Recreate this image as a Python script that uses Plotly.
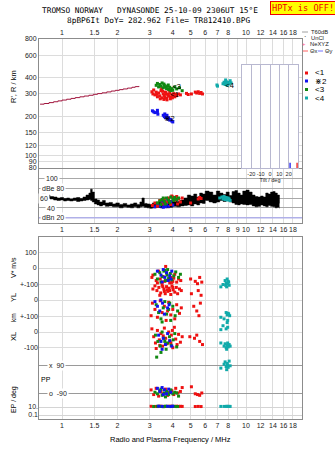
import math
import plotly.graph_objects as go

# ---------------- data ----------------
freq_ticks = [1, 1.5, 2, 3, 4, 5, 6, 7, 8, 9, 10, 12, 14, 16, 18]
freq_labels_outer = ["1", "1.5", "2", "3", "4", "5", "6", "7", "8", "", "10", "12", "14", "16", "18"]
freq_labels_mid = ["1", "1.5", "2", "3", "4", "5", "6", "7", "8", "9", "10", "12", "14", "16", "18"]
range_ticks = [80, 90, 100, 120, 150, 200, 300, 400, 600, 800]
db_ticks = [100, 80, 60, 40, 20]

# model/trace line in range panel (MHz, km)
trace_f = [0.76, 0.8, 0.85, 0.9, 0.95, 1.0, 1.06, 1.12, 1.18, 1.25, 1.32, 1.4, 1.48, 1.56,
           1.65, 1.75, 1.85, 1.95, 2.05, 2.15, 2.27, 2.4, 2.5, 2.62]
trace_r = [250, 253, 257, 261, 265, 269, 273, 277, 281, 285, 289, 293, 298, 302,
           306, 311, 316, 320, 324, 328, 333, 338, 342, 346]

# echo clusters, range panel
red_f = [3.08, 3.12, 3.15, 3.2, 3.25, 3.3, 3.35, 3.4, 3.45, 3.5, 3.55, 3.6, 3.65, 3.7, 3.75, 3.8,
         3.85, 3.9, 3.95, 4.0, 4.05, 4.1, 4.15, 4.2, 4.3, 4.4, 3.42, 3.58, 3.72, 3.88, 3.52, 3.62,
         3.78, 3.98, 3.28, 3.68, 4.75, 4.85, 5.3, 5.4, 5.5, 5.6, 5.7, 5.8, 5.05, 3.48, 3.82]
red_r = [312, 300, 322, 295, 310, 285, 305, 290, 318, 280, 300, 292, 310, 278, 298, 288,
         305, 282, 296, 290, 302, 285, 297, 291, 300, 295, 275, 272, 270, 275, 315, 283,
         293, 280, 298, 302, 303, 297, 310, 305, 312, 303, 308, 300, 300, 330, 320]
green_f = [3.25, 3.3, 3.35, 3.4, 3.45, 3.5, 3.55, 3.6, 3.65, 3.7, 3.75, 3.8, 3.85, 3.9, 3.95,
           4.0, 4.1, 4.2, 4.35, 4.5, 3.58, 3.78]
green_r = [350, 362, 340, 355, 345, 365, 335, 350, 340, 330, 345, 325, 338, 318, 330,
           320, 340, 328, 335, 318, 358, 352]
blue_f = [3.1, 3.15, 3.2, 3.3, 3.3, 3.32, 3.55, 3.6, 3.65, 3.7, 3.75, 3.8, 3.85, 3.9, 3.95, 4.0,
          3.62, 3.72]
blue_r = [222, 218, 215, 224, 216, 209, 205, 200, 196, 200, 192, 196, 188, 190, 185, 182,
          210, 205]
cyan_f = [6.95, 7.0, 7.5, 7.6, 7.7, 7.8, 7.85, 7.9, 8.0, 8.1, 8.2, 8.3, 7.75]
cyan_r = [352, 345, 360, 370, 355, 375, 362, 350, 368, 358, 380, 365, 385]
mode_labels = ["<1", "\u22c72", "<3", "<4"]
mode_label_f = [4.1, 3.82, 4.2, 8.15]
mode_label_r = [296, 190, 338, 348]

# amplitude panel: noise/echo band (MHz, dB)
band_f = [0.78, 0.82, 0.86, 0.9, 0.94, 0.98, 1.02, 1.06, 1.1, 1.15, 1.2, 1.25, 1.3, 1.35, 1.4, 1.43,
          1.46, 1.5, 1.55, 1.6, 1.66, 1.72, 1.8, 1.88, 1.96, 2.05, 2.15, 2.25, 2.35, 2.45, 2.55,
          2.65, 2.72, 2.8, 2.9, 3.0, 3.1, 3.25, 3.4, 3.55, 3.7, 3.85, 4.0, 4.2, 4.4, 4.6, 4.8,
          5.0, 5.2, 5.4, 5.6, 5.8, 6.0, 6.3, 6.6, 6.9, 7.2, 7.5, 7.8, 8.1, 8.4, 8.7, 9.0, 9.3,
          9.6, 10.0, 10.4, 10.8, 11.2, 11.6, 12.0, 12.4, 12.8, 13.2, 13.6, 14.0, 14.4, 14.8, 15.2]
band_top = [68, 66, 63, 62, 60, 61, 59, 60, 58, 60, 61, 59, 62, 66, 70, 78, 72, 58, 56, 52, 55,
            50, 51, 48, 50, 47, 49, 46, 48, 50, 47, 52, 60, 49, 48, 47, 50, 52, 53, 54, 52, 55,
            54, 53, 56, 60, 66, 64, 68, 62, 70, 68, 74, 72, 66, 74, 70, 67, 72, 65, 73, 75, 70,
            66, 74, 76, 72, 66, 63, 62, 64, 62, 70, 68, 72, 73, 70, 66, 49]
band_bot = [62, 60, 58, 56, 55, 56, 54, 55, 54, 55, 53, 54, 55, 56, 57, 55, 52, 48, 46, 44, 46,
            43, 44, 42, 42, 40, 42, 41, 40, 42, 40, 42, 43, 41, 40, 39, 40, 41, 40, 42, 40, 41,
            43, 42, 44, 45, 46, 44, 48, 46, 50, 49, 55, 52, 50, 52, 55, 53, 55, 52, 50, 47, 46,
            48, 47, 46, 47, 44, 42, 43, 46, 44, 42, 45, 43, 42, 40, 41, 39]
db_red_f = [3.1, 3.2, 3.3, 3.4, 3.5, 3.6, 3.7, 3.8, 3.9, 4.0, 4.1, 4.2, 4.3, 4.4, 4.5, 3.95, 4.25,
            5.5, 5.6, 5.7, 5.0]
db_red_v = [45, 50, 43, 55, 48, 58, 52, 60, 47, 62, 55, 63, 58, 52, 60, 64, 48, 58, 61, 59, 50]
db_green_f = [3.3, 3.4, 3.5, 3.6, 3.7, 3.8, 3.9, 4.0, 4.1, 4.2, 4.3, 3.45, 3.65, 3.85, 4.05, 3.55]
db_green_v = [50, 54, 57, 53, 60, 56, 62, 58, 61, 57, 60, 47, 48, 51, 55, 60]
db_blue_f = [3.2, 3.3, 3.4, 3.5, 3.6, 3.7, 3.8, 3.9, 4.0, 3.55, 3.75, 3.65]
db_blue_v = [42, 46, 44, 50, 45, 48, 43, 52, 46, 41, 55, 42]
db_cyan_f = [7.2, 7.4, 7.5, 7.6, 7.7, 7.8, 7.9, 8.0, 8.1, 8.2]
db_cyan_v = [60, 62, 58, 63, 57, 61, 56, 60, 58, 55]

# tilt inset (deg, count)
tilt_deg = [21.5, 29.0]
tilt_count = [1, 1]
tilt_colors = ["#0000ee", "#ee0000"]

# lower panel: V* (m/s), YL (km), XL (km), PP (deg), EP (deg)
vs_red_f = [3.08, 3.12, 3.25, 3.35, 3.42, 3.5, 3.55, 3.62, 3.7, 3.78, 3.85, 3.92, 4.0, 4.1, 4.2,
            4.3, 4.42, 3.66, 3.3, 3.95, 4.05, 5.0, 5.3, 5.6, 5.75, 5.45]
vs_red_v = [-60, -45, -80, -20, -70, -90, -55, -85, -30, -75, -95, -60, -85, -40, -90,
            -70, -80, 10, -95, -92, -65, -70, -85, -60, -90, -100]
yl_red_f = [3.2, 3.28, 3.36, 3.44, 3.5, 3.58, 3.64, 3.7, 3.76, 3.82, 3.9, 3.96, 4.02, 4.1, 4.18,
            4.25, 4.35, 4.45, 3.4, 3.6, 3.85, 4.0, 3.12, 3.53, 3.73, 3.1, 3.2, 3.3, 3.42, 3.5,
            3.6, 3.68, 3.8, 3.9, 4.0, 4.1, 4.2, 4.35, 3.05, 3.75, 4.45, 5.05, 5.5, 5.7, 5.2,
            5.4, 5.65, 5.55]
yl_red_v = [90, 60, 80, 45, 95, 70, 40, 85, 55, 75, 35, 90, 65, 50, 80,
            40, 70, 60, 30, 55, 60, 80, 70, 85, 65, -20, -60, -110, -5, -80,
            -40, -130, -15, -95, -60, -120, -30, -85, -100, -70, -50, 40, 60, 30, -40,
            -70, -20, -100]
xl_red_f = [3.08, 3.15, 3.22, 3.3, 3.38, 3.45, 3.52, 3.6, 3.66, 3.72, 3.8, 3.86, 3.93, 4.0, 4.08,
            4.15, 4.22, 4.3, 4.4, 4.5, 3.4, 3.55, 3.9, 3.98, 3.25, 4.95, 5.25, 5.6, 5.8, 5.4]
xl_red_v = [20, -30, -70, 10, -50, -10, -90, 25, -40, -75, 0, -60, -20, -100, 30,
            -45, -80, -15, -65, -30, -85, -25, -70, 10, -105, -30, -40, -60, -80, -20]
vs_green_f = [3.2, 3.3, 3.4, 3.5, 3.58, 3.65, 3.72, 3.8, 3.88, 3.95, 4.05, 4.15, 4.3, 3.45, 3.75,
              4.4, 3.62]
vs_green_v = [-40, -70, -30, -55, -20, -80, -45, -65, -35, -75, -50, -25, -60, -90, -10, -40, -15]
yl_green_f = [3.25, 3.35, 3.45, 3.55, 3.62, 3.7, 3.8, 3.9, 4.0, 4.12, 3.5, 3.85, 4.25]
yl_green_v = [-30, -80, -120, -50, -10, -90, -60, -130, -40, -100, -140, -20, -70]
xl_green_f = [3.22, 3.32, 3.42, 3.5, 3.58, 3.68, 3.75, 3.84, 3.92, 4.02, 4.1, 4.2, 3.62, 3.45, 3.27]
xl_green_v = [-20, -60, -90, 0, -40, -110, -70, -30, -85, -50, -10, -95, -60, -130, -160]
vs_blue_f = [3.3, 3.45, 3.55, 3.62, 3.7, 3.78, 3.85, 3.95, 3.5, 3.9]
vs_blue_v = [-20, -45, -10, -60, -30, -80, -50, -20, -90, -70]
yl_blue_f = [3.2, 3.3, 3.4, 3.52, 3.6, 3.75, 3.45, 3.82]
yl_blue_v = [-10, -40, -70, -20, -90, -50, 0, -30]
xl_blue_f = [3.35, 3.45, 3.55, 3.65, 3.75, 3.85, 3.95, 3.5]
xl_blue_v = [-20, -60, -40, -80, -10, -55, -90, -110]
vs_cyan_f = [7.7, 7.8, 7.9, 7.95, 8.0, 8.1, 7.85, 7.3, 7.5, 8.05, 7.75]
vs_cyan_v = [-80, -95, -70, -100, -85, -110, -120, -120, -105, -90, -110]
yl_cyan_f = [7.8, 7.9, 8.0, 8.15, 7.3, 7.6, 7.95, 8.05]
yl_cyan_v = [-80, -95, -85, -100, -110, -120, -130, -90]
xl_cyan_f = [7.5, 7.8, 7.9, 7.3, 7.95, 7.6, 7.7, 7.8, 7.9, 8.0, 8.1, 7.85, 7.3, 8.2, 7.95]
xl_cyan_v = [40, 20, 60, 15, 30, -90, -75, -100, -85, -95, -80, -110, -70, -90, -70]
pp_red_f = [3.05, 3.15, 3.25, 3.35, 3.45, 3.55, 3.65, 3.75, 3.85, 3.95, 4.05, 4.15, 4.25, 4.4,
            4.5, 5.3, 5.45, 5.6, 5.75, 5.05]
pp_red_v = [-70, -100, -60, -110, -80, -95, -65, -105, -85, -75, -100, -60, -90, -80,
            -55, -95, -100, -105, -90, -50]
pp_green_f = [3.2, 3.3, 3.4, 3.5, 3.6, 3.7, 3.8, 3.9, 4.0, 4.1, 4.2, 4.3, 3.45, 3.65, 3.85]
pp_green_v = [-85, -95, -75, -105, -90, -80, -100, -70, -95, -85, -90, -110, -65, -115, -88]
pp_blue_f = [3.3, 3.4, 3.5, 3.6, 3.7, 3.8, 3.9, 3.55]
pp_blue_v = [-60, -80, -55, -70, -95, -65, -85, -100]
pp_cyan_f = [7.3, 7.6, 7.7, 7.8, 7.9, 8.0, 8.1, 7.85, 7.95, 8.2]
pp_cyan_v = [70, 95, 110, 80, 100, 75, 115, 60, 90, 85]
ep_red_f = [3.05, 3.2, 3.4, 3.6, 3.8, 4.0, 4.2, 4.4, 4.5, 5.3, 5.5, 5.7, 3.3, 3.5, 3.9, 4.3]
ep_red_v = [15, 14, 16, 13, 15, 14, 16, 15, 14, 13, 14, 13, 13, 15, 16, 14]
ep_green_f = [3.15, 3.3, 3.45, 3.55, 3.7, 3.85, 4.05, 4.15, 3.65, 3.95, 4.25]
ep_green_v = [13, 15, 14, 12, 14, 13, 15, 13, 16, 14, 13]
ep_blue_f = [3.35, 3.5, 3.75, 3.9, 4.0]
ep_blue_v = [16, 14, 15, 13, 16]
ep_cyan_f = [7.3, 7.6, 7.8, 7.9, 8.0, 8.1, 8.2]
ep_cyan_v = [14, 14, 14, 15, 14, 14, 14]

RED, BLUE, GREEN, CYAN = "#ee1111", "#1111ee", "#118811", "#11aaaa"

# ---------------- layout geometry (pixels) ----------------
W, H = 335, 451
L, R, T, B = 39, 302, 39, 419
F1_PX, PX_PER_DEC = 62, 184.0


def px(x):
    return (x - L) / (R - L)


def py(y):
    return (B - y) / (B - T)


XR = [(L - F1_PX) / PX_PER_DEC, (R - F1_PX) / PX_PER_DEC]
FONT = "Liberation Sans"
MONO = "DejaVu Sans Mono"
GRID = "#dcdcdc"
FRAME = "#8c8c8c"
TXT = "#222222"

TOP_BOT_PX = 168
DB_TOP_PX, DB_BOT_PX = 168.5, 222.5
DB100_PX, DB_PX_PER = 178.3, 0.4925
db_range = [100 - (DB_BOT_PX - DB100_PX) / DB_PX_PER, 100 + (DB100_PX - DB_TOP_PX) / DB_PX_PER]
LOW_TOP_PX = 237
PX100 = 15.7


def lin_range(zero_px):
    return [-(B - zero_px) / PX100 * 100, (zero_px - LOW_TOP_PX) / PX100 * 100]


PP_P90, PP_M90 = 365, 393
pp_per = 180.0 / (PP_M90 - PP_P90)
pp_range = [90 - (B - PP_P90) * pp_per, 90 + (PP_P90 - LOW_TOP_PX) * pp_per]
EP10_PX, EP_PX_DEC = 407, 4.0
ep_range = [1 - (B - EP10_PX) / EP_PX_DEC, 1 + (EP10_PX - LOW_TOP_PX) / EP_PX_DEC]

fig = go.Figure()


def pts(x, y, color, xa, ya, size=3):
    fig.add_trace(go.Scatter(x=x, y=y, mode="markers", xaxis=xa, yaxis=ya, hoverinfo="skip",
                             marker=dict(symbol="square", size=size, color=color, line=dict(width=0))))


# range panel
fig.add_trace(go.Scatter(x=trace_f, y=trace_r, mode="lines", xaxis="x", yaxis="y",
                         line=dict(color="#a0143c", width=1, shape="hv")))
pts(red_f, red_r, RED, "x", "y")
pts(green_f, green_r, GREEN, "x", "y")
pts(blue_f, blue_r, BLUE, "x", "y")
pts(cyan_f, cyan_r, CYAN, "x", "y")
fig.add_trace(go.Scatter(x=mode_label_f, y=mode_label_r, mode="text", text=mode_labels,
                         xaxis="x", yaxis="y", textfont=dict(family=FONT, size=7.5, color="black")))

# dB panel
fig.add_trace(go.Scatter(x=band_f, y=band_bot, mode="lines", xaxis="x2", yaxis="y2",
                         line=dict(color="black", width=0.5, shape="hv")))
fig.add_trace(go.Scatter(x=band_f, y=band_top, mode="lines", xaxis="x2", yaxis="y2",
                         fill="tonexty", fillcolor="black",
                         line=dict(color="black", width=0.5, shape="hv")))
pts(db_blue_f, db_blue_v, BLUE, "x2", "y2")
pts(db_red_f, db_red_v, RED, "x2", "y2")
pts(db_green_f, db_green_v, GREEN, "x2", "y2")
pts(db_cyan_f, db_cyan_v, CYAN, "x2", "y2")

# lower panel
for f, v, c in [(vs_red_f, vs_red_v, RED), (vs_green_f, vs_green_v, GREEN),
                (vs_blue_f, vs_blue_v, BLUE), (vs_cyan_f, vs_cyan_v, CYAN)]:
    pts(f, v, c, "x3", "y3")
for f, v, c in [(yl_red_f, yl_red_v, RED), (yl_green_f, yl_green_v, GREEN),
                (yl_blue_f, yl_blue_v, BLUE), (yl_cyan_f, yl_cyan_v, CYAN)]:
    pts(f, v, c, "x3", "y4")
for f, v, c in [(xl_red_f, xl_red_v, RED), (xl_green_f, xl_green_v, GREEN),
                (xl_blue_f, xl_blue_v, BLUE), (xl_cyan_f, xl_cyan_v, CYAN)]:
    pts(f, v, c, "x3", "y5")
for f, v, c in [(pp_red_f, pp_red_v, RED), (pp_green_f, pp_green_v, GREEN),
                (pp_blue_f, pp_blue_v, BLUE), (pp_cyan_f, pp_cyan_v, CYAN)]:
    pts(f, v, c, "x3", "y6")
for f, v, c in [(ep_red_f, ep_red_v, RED), (ep_green_f, ep_green_v, GREEN),
                (ep_blue_f, ep_blue_v, BLUE), (ep_cyan_f, ep_cyan_v, CYAN)]:
    pts(f, v, c, "x3", "y7")

# tilt inset
for t, c, col in zip(tilt_deg, tilt_count, tilt_colors):
    fig.add_trace(go.Scatter(x=[t, t], y=[0, c], mode="lines", xaxis="x4", yaxis="y8",
                             line=dict(color=col, width=1.2)))

tickfont = dict(family=FONT, size=7, color=TXT)
xcommon = dict(type="log", range=XR, domain=[0, 1], showgrid=True, gridcolor=GRID, gridwidth=1,
               showline=True, mirror=True, linecolor=FRAME, linewidth=1, ticks="",
               tickfont=tickfont, tickvals=freq_ticks, zeroline=False, tickangle=0)

fig.update_layout(
    width=W, height=H, autosize=False,
    margin=dict(l=L, r=W - R, t=T, b=H - B),
    paper_bgcolor="white", plot_bgcolor="white", showlegend=False,
    xaxis=dict(xcommon, anchor="y", side="top", ticktext=freq_labels_outer),
    yaxis=dict(type="log", range=[math.log10(80), math.log10(800)], domain=[py(TOP_BOT_PX), 1],
               anchor="x", tickvals=range_ticks, ticktext=[str(v) for v in range_ticks],
               showgrid=True, gridcolor=GRID, showline=True, mirror=True, linecolor=FRAME,
               ticks="", tickfont=tickfont, zeroline=False),
    xaxis2=dict(xcommon, anchor="y2", side="bottom", ticktext=freq_labels_mid),
    yaxis2=dict(range=db_range, domain=[py(DB_BOT_PX), py(DB_TOP_PX)], anchor="x2",
                tickvals=db_ticks, showticklabels=False, showgrid=True, gridcolor="#a8a8a8",
                showline=True, mirror=True, linecolor=FRAME, ticks="", zeroline=False),
    xaxis3=dict(xcommon, anchor="y3", side="bottom", ticktext=freq_labels_outer),
    yaxis3=dict(range=lin_range(268), domain=[0, py(LOW_TOP_PX)], anchor="x3",
                tickvals=[100, 0], ticktext=["100", "0"], showgrid=True, gridcolor=GRID,
                showline=True, mirror=True, linecolor=FRAME, ticks="", tickfont=tickfont,
                zeroline=False),
    yaxis4=dict(range=lin_range(300), overlaying="y3", anchor="x3", side="left",
                tickvals=[100, 0], ticktext=["+-100", "0"], showgrid=True, gridcolor=GRID,
                ticks="", tickfont=tickfont, zeroline=False, showline=False),
    yaxis5=dict(range=lin_range(332), overlaying="y3", anchor="x3", side="left",
                tickvals=[100, 0, -100], ticktext=["+-100", "0", "-100"], showgrid=True,
                gridcolor=GRID, ticks="", tickfont=tickfont, zeroline=False, showline=False),
    yaxis6=dict(range=pp_range, overlaying="y3", anchor="x3", side="left",
                tickvals=[90, -90], ticktext=["", ""], showgrid=True, gridcolor="#9a9a9a",
                ticks="", zeroline=False, showline=False),
    yaxis7=dict(type="log", range=ep_range, overlaying="y3", anchor="x3", side="left",
                tickvals=[10, 0.1], ticktext=["10.", "0.1"], showgrid=True, gridcolor="#d4d4d4",
                ticks="", tickfont=tickfont, zeroline=False, showline=False),
    xaxis4=dict(range=[-30, 30], domain=[px(242), px(298)], anchor="y8",
                tickvals=[-20, -10, 0, 10, 20], ticktext=["-20", "-10", "0", "10", "20"],
                showgrid=True, gridcolor="#b8b8d0", showline=True, mirror=True,
                linecolor="#b8b8d0", ticks="", zeroline=False, tickangle=0,
                tickfont=dict(family=FONT, size=5.5, color=TXT),
                title=dict(text="Tilt / deg", font=dict(family=FONT, size=5.5, color=TXT),
                           standoff=0)),
    yaxis8=dict(range=[0, 20], domain=[py(168), py(65)], anchor="x4", showticklabels=False,
                showgrid=False, showline=True, mirror=True, linecolor="#b8b8d0", ticks="",
                zeroline=False),
)

# dBn reference line
fig.add_shape(type="line", xref="x2 domain", yref="y2", x0=0, x1=1, y0=20, y1=20,
              line=dict(color="#b0b0e8", width=1.5))

ann = []


def text(x, y, s, size=7, anchor="center", angle=0, color=TXT, family=FONT, bg=None, **kw):
    d = dict(x=px(x), y=py(y), xref="paper", yref="paper", text=s, showarrow=False,
             xanchor=anchor, yanchor="middle", textangle=angle,
             font=dict(family=family, size=size, color=color))
    if bg:
        d["bgcolor"] = bg
    d.update(kw)
    ann.append(d)


# titles
text(150, 11, "TROMSO\u00a0NORWAY\u00a0\u00a0\u00a0DYNASONDE\u00a025-10-09\u00a02306UT\u00a015\u00b0E",
     size=7.8, family=MONO, color="black")
text(158, 20.5, "8pBP6It\u00a0DoY=\u00a0282.962\u00a0File=\u00a0TR812410.BPG", size=7.8,
     family=MONO, color="black")
text(302.5, 8, "HPTx\u00a0is\u00a0OFF!", size=8.6, family=MONO, color="#ee0000", bg="#ffff00",
     bordercolor="#ee0000", borderwidth=1, borderpad=1)

# axis titles
text(14, 87, "R', R / km", size=7.5, angle=-90, color="black")
text(13, 268, "V* m/s", size=7, angle=-90, color="black")
text(13, 298, "YL", size=7.5, angle=-90, color="black")
text(13, 318, "km", size=6.5, angle=-90, color="black")
text(13, 337, "XL", size=7.5, angle=-90, color="black")
text(14, 400, "EP / deg", size=7, angle=-90, color="black")
text(46, 379, "PP", size=7, color="black")
text(47, 365, "x\u00a0\u00a090", size=7, anchor="left", bg="white")
text(47, 393, "o\u00a0\u00a0-90", size=7, anchor="left", bg="white")
text(170, 439, "Radio and Plasma Frequency / MHz", size=7.5, color="black")

# dB panel labels
text(60, 178.3, "100", size=7, anchor="right", bg="white")
text(40, 188, "dBe\u00a080", size=7, anchor="left", bg="white")
text(38, 198, "60", size=7, anchor="left", bg="white")
text(57, 208, "40", size=7, anchor="right", bg="white")
text(40, 217.7, "dBn\u00a020", size=7, anchor="left", bg="white")

# legend
shapes = []


def lline(x0, x1, y, color):
    shapes.append(dict(type="line", xref="paper", yref="paper", x0=px(x0), x1=px(x1),
                       y0=py(y), y1=py(y), line=dict(color=color, width=1)))


def lsq(x, y, color):
    shapes.append(dict(type="rect", xref="paper", yref="paper", x0=px(x - 1.5), x1=px(x + 1.5),
                       y0=py(y + 1.5), y1=py(y - 1.5), fillcolor=color, line=dict(width=0)))


LEG = 5.8
lline(302, 308, 32, "#a0a0a0")
text(309, 32, "T60dB", size=LEG, anchor="left")
text(305, 37, "\u00b7", size=7, color="black")
text(309, 38, "UnCl", size=LEG, anchor="left")
text(304, 44, "+", size=6, color="#ff6090")
text(308, 44, "NeXYZ", size=LEG, anchor="left")
lline(303, 308, 51, "#ff6060")
text(308, 51, "\u0398x", size=LEG, anchor="left")
lline(318, 323, 51, "#7070ff")
text(323, 51, "\u0398y", size=LEG, anchor="left")
for yy, col, lab in [(73, RED, "<1"), (81, BLUE, "\u22c72"), (89.5, GREEN, "<3"), (98, CYAN, "<4")]:
    lsq(306.5, yy, col)
    text(313, yy, lab, size=8, anchor="left", color="black")

fig.update_layout(annotations=ann, shapes=list(fig.layout.shapes) + shapes)
fig.write_html("out.html")
